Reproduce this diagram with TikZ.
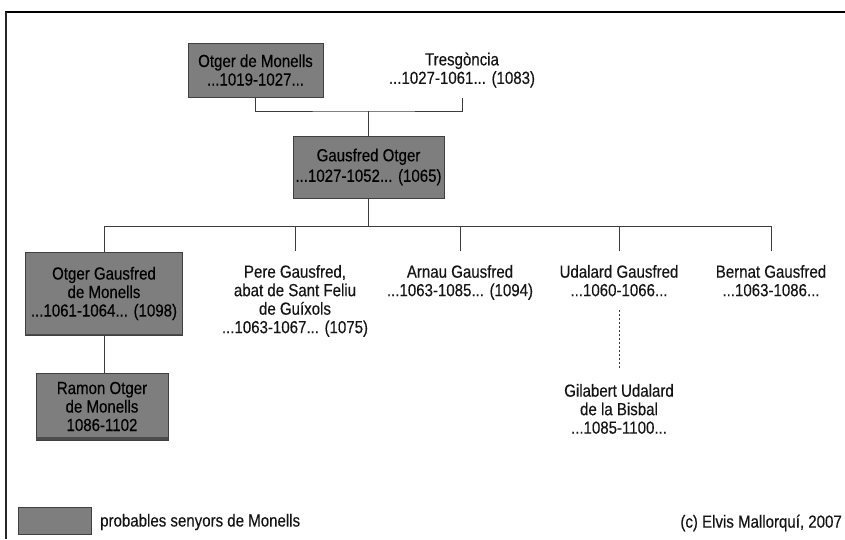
\documentclass[tikz,border=0pt]{standalone}
\usepackage{fontspec}
\setmainfont{Liberation Sans}[FakeStretch=0.86,FakeBold=0.25]
\definecolor{boxgray}{RGB}{126,126,126}
\definecolor{inkdark}{RGB}{20,20,20}
\definecolor{linegray}{RGB}{60,60,60}
\begin{document}
\begin{tikzpicture}[x=1pt,y=-1pt,
  every node/.style={font=\fontsize{17.5}{18.5}\selectfont, text=inkdark},
  senyor/.style={draw=black!75, line width=0.9pt, fill=boxgray, align=center, inner sep=0pt, text=black},
  persona/.style={align=center, inner sep=0pt, outer ysep=14pt, anchor=north},
  lin/.style={draw=linegray, line width=0.8pt},
  dotlin/.style={draw=linegray, line width=0.6pt, dash pattern=on 2pt off 2pt}]
\useasboundingbox[fill=white] (0,0) rectangle (845,539);
% frame
\draw[black, line width=1.6pt] (5,12) -- (845,12);
\draw[black!85, line width=1.2pt] (6,12) -- (6,539);
% generation 1
\node[senyor, minimum width=135pt, minimum height=54pt] (otger) at (255.5,70) {Otger de Monells\\...1019-1027...};
\node[align=center, inner sep=0pt] (tres) at (462,70) {Tresgòncia\\...1027-1061... (1083)};
\coordinate (tresc) at (462,98);
\coordinate (mar) at (368.5,111);
% generation 2
\node[senyor, minimum width=151pt, minimum height=62pt] (gausfred) at (368.5,167) {Gausfred Otger\\[2pt]...1027-1052... (1065)};
\coordinate (fork) at (368.5,226);
% generation 3
\node[senyor, minimum width=157pt, minimum height=83pt] (og) at (104,293.5) {Otger Gausfred\\de Monells\\...1061-1064... (1098)};
\node[persona] (pere) at (295,251) {Pere Gausfred,\\abat de Sant Feliu\\de Guíxols\\...1063-1067... (1075)};
\node[persona] (arnau) at (460,251) {Arnau Gausfred\\...1063-1085... (1094)};
\node[persona] (udalard) at (619,251) {Udalard Gausfred\\...1060-1066...};
\node[persona] (bernat) at (771,251) {Bernat Gausfred\\...1063-1086...};
% generation 4
\node[senyor, minimum width=132pt, minimum height=67pt] (ramon) at (102,406.5) {Ramon Otger\\de Monells\\1086-1102};
\node[persona] (gilabert) at (619,370) {Gilabert Udalard\\de la Bisbal\\...1085-1100...};
\draw[black!70, line width=3pt] ([yshift=1.5pt]ramon.south west) -- ([yshift=1.5pt]ramon.south east);
\draw[black!70, line width=1.5pt] ([yshift=0.75pt]og.south west) -- ([yshift=0.75pt]og.south east);
% connectors
\draw[lin] (otger.south) |- (mar) -| (tresc);
\draw[lin] (mar) -- (gausfred.north);
\draw[lin] (gausfred.south) -- (fork);
\foreach \c in {og,pere,arnau,udalard,bernat} \draw[lin] (fork) -| (\c.north);
\draw[lin] (og.south) -- (og.south |- ramon.north);
\draw[dotlin] (udalard.south) -- (gilabert.north);
% legend
\node[senyor, minimum width=73pt, minimum height=27pt] (leg) at (54.5,520.5) {};
\node[anchor=west, inner sep=0pt] (legt) at (100,522) {probables senyors de Monells};
\node[anchor=east, inner sep=0pt] (copy) at (842,523) {(c) Elvis Mallorquí, 2007};
\end{tikzpicture}
\end{document}
